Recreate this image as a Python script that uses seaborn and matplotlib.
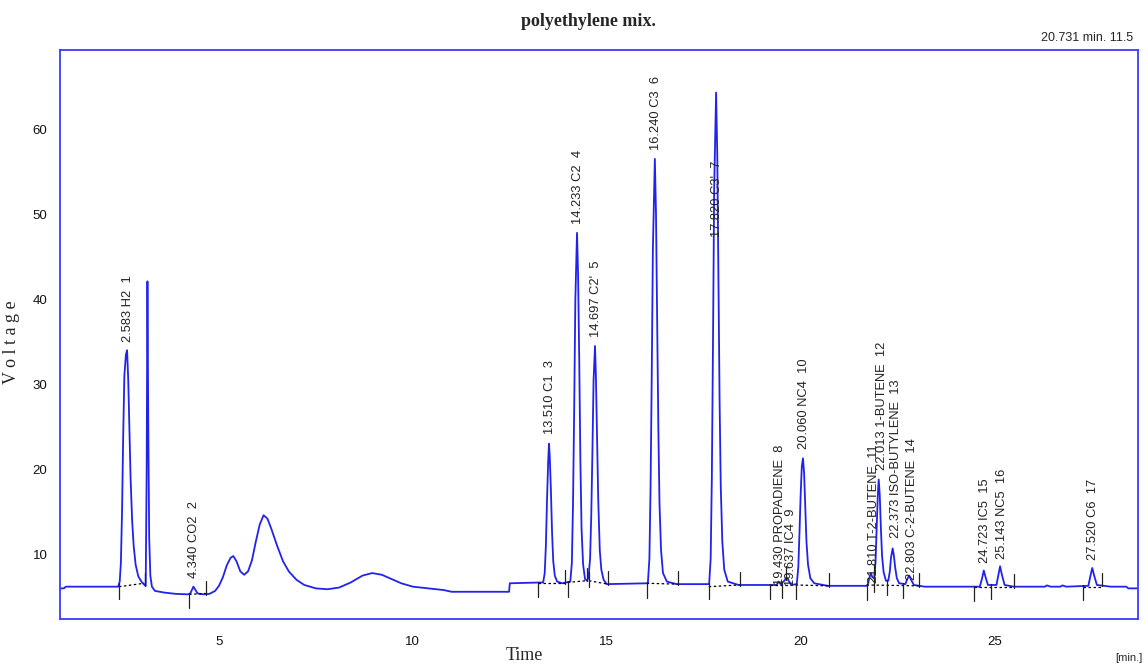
import numpy as np
import pandas as pd
import matplotlib
matplotlib.use("Agg")
import matplotlib.pyplot as plt
import seaborn as sns

trace_points = [
    (0.9, 6.0), (1.0, 6.0), (1.05, 6.2), (2.40, 6.2), (2.44, 6.8), (2.47, 9.0), (2.50, 15.0),
    (2.53, 24.0), (2.56, 31.0), (2.60, 33.5), (2.63, 34.0), (2.66, 30.5), (2.69, 25.0), (2.72, 19.0),
    (2.76, 14.0), (2.80, 11.0), (2.85, 8.8), (2.92, 7.4), (3.00, 6.8), (3.08, 6.4), (3.11, 6.3),
    (3.135, 20.0), (3.155, 42.1), (3.175, 26.0), (3.20, 12.0), (3.23, 7.5), (3.27, 6.2), (3.35, 5.7),
    (3.6, 5.5), (3.9, 5.35), (4.20, 5.3), (4.26, 5.4), (4.30, 5.8), (4.34, 6.2), (4.38, 5.9),
    (4.45, 5.4), (4.6, 5.3), (4.75, 5.35), (4.9, 5.7), (5.0, 6.3), (5.1, 7.3), (5.2, 8.7), (5.3, 9.6),
    (5.37, 9.8), (5.45, 9.2), (5.55, 8.0), (5.65, 7.6), (5.75, 8.0), (5.85, 9.3), (5.95, 11.5),
    (6.05, 13.5), (6.15, 14.6), (6.25, 14.2), (6.35, 13.0), (6.5, 11.0), (6.65, 9.2), (6.8, 8.0),
    (7.0, 7.0), (7.2, 6.4), (7.5, 6.0), (7.8, 5.9), (8.1, 6.1), (8.4, 6.7), (8.7, 7.5), (8.95, 7.8),
    (9.2, 7.6), (9.45, 7.1), (9.7, 6.6), (10.0, 6.2), (10.4, 6.0), (10.8, 5.8), (11.0, 5.6),
    (12.48, 5.6), (12.50, 6.6), (13.36, 6.7), (13.40, 7.8), (13.43, 11.0), (13.46, 16.5),
    (13.49, 21.0), (13.51, 23.0), (13.53, 21.5), (13.56, 17.5), (13.59, 12.5), (13.62, 9.2),
    (13.66, 7.5), (13.72, 6.8), (13.85, 6.6), (14.06, 6.8), (14.10, 9.0), (14.13, 16.0),
    (14.16, 27.0), (14.19, 40.0), (14.233, 47.8), (14.26, 43.0), (14.29, 33.0), (14.32, 21.0),
    (14.35, 13.0), (14.39, 8.8), (14.44, 7.1), (14.49, 6.9), (14.53, 7.3), (14.57, 9.5),
    (14.60, 14.5), (14.63, 22.0), (14.66, 30.5), (14.697, 34.5), (14.72, 31.0), (14.75, 24.0),
    (14.78, 16.5), (14.82, 10.5), (14.86, 8.2), (14.92, 7.0), (15.0, 6.5), (16.06, 6.6),
    (16.10, 9.5), (16.13, 18.0), (16.16, 31.0), (16.19, 46.0), (16.24, 56.5), (16.27, 50.0),
    (16.30, 38.0), (16.33, 25.0), (16.36, 16.0), (16.40, 10.5), (16.45, 7.8), (16.55, 6.8),
    (16.8, 6.5), (17.64, 6.5), (17.68, 9.5), (17.71, 19.0), (17.74, 35.0), (17.77, 53.0),
    (17.82, 64.3), (17.85, 57.0), (17.88, 43.0), (17.91, 28.0), (17.94, 18.0), (17.98, 11.5),
    (18.03, 8.2), (18.12, 6.8), (18.4, 6.4), (19.38, 6.4), (19.43, 6.8), (19.48, 6.5), (19.58, 6.9),
    (19.637, 7.3), (19.69, 6.9), (19.76, 6.4), (19.90, 6.5), (19.94, 8.5), (19.97, 12.5),
    (20.00, 17.0), (20.03, 20.3), (20.06, 21.3), (20.09, 19.5), (20.12, 15.5), (20.15, 11.5),
    (20.19, 8.8), (20.25, 7.2), (20.35, 6.6), (20.7, 6.3), (21.72, 6.3), (21.77, 7.2), (21.81, 7.8),
    (21.85, 7.3), (21.90, 7.2), (21.93, 9.0), (21.96, 13.0), (21.99, 17.0), (22.013, 18.8),
    (22.04, 17.0), (22.07, 13.0), (22.10, 9.8), (22.14, 7.9), (22.20, 6.9), (22.26, 6.9),
    (22.30, 8.0), (22.33, 9.6), (22.373, 10.7), (22.40, 10.0), (22.44, 8.4), (22.48, 7.2),
    (22.54, 6.6), (22.70, 6.5), (22.75, 7.1), (22.80, 7.5), (22.85, 7.0), (22.92, 6.4), (23.2, 6.2),
    (24.62, 6.2), (24.68, 7.2), (24.723, 8.1), (24.77, 7.3), (24.83, 6.4), (25.05, 6.4), (25.10, 7.6),
    (25.143, 8.6), (25.19, 7.6), (25.26, 6.4), (25.5, 6.2), (26.3, 6.2), (26.35, 6.35), (26.45, 6.2),
    (26.7, 6.2), (26.75, 6.35), (26.85, 6.2), (27.42, 6.3), (27.47, 7.4), (27.52, 8.4), (27.57, 7.5),
    (27.64, 6.4), (28.0, 6.2), (28.4, 6.2), (28.45, 6.0), (28.7, 6.0),
]
trace_t = [p[0] for p in trace_points]
trace_v = [p[1] for p in trace_points]

# ---- peak table ----
peak_rt = [2.583, 4.340, 13.510, 14.233, 14.697, 16.240, 17.820, 19.430, 19.637, 20.060,
           21.810, 22.013, 22.373, 22.803, 24.723, 25.143, 27.520]
peak_names = ["H2", "CO2", "C1", "C2", "C2'", "C3", "C3'", "PROPADIENE", "IC4", "NC4",
              "T-2-BUTENE", "1-BUTENE", "ISO-BUTYLENE", "C-2-BUTENE", "IC5", "NC5", "C6"]
peak_no = list(range(1, 18))
label_x = [2.66, 4.36, 13.54, 14.26, 14.72, 16.27, 17.85, 19.47, 19.74, 20.09,
           21.88, 22.10, 22.45, 22.88, 24.76, 25.18, 27.55]
label_base = [35.0, 7.2, 24.2, 48.8, 35.6, 57.6, 47.3, 6.4, 6.3, 22.4,
              6.6, 19.9, 11.9, 7.0, 9.0, 9.5, 9.3]

# integration marks and dotted baselines
down_marks = [2.42, 4.23, 13.22, 13.99, 14.54, 16.03, 17.63, 19.20, 19.51, 19.87,
              21.70, 21.88, 22.22, 22.63, 24.46, 24.92, 27.29]
up_marks = [3.09, 4.66, 13.92, 14.48, 15.03, 16.83, 18.43, 19.61, 20.72, 21.88, 23.04, 25.51, 27.78]
base_start_t = [2.42, 4.23, 13.22, 13.99, 14.54, 16.03, 17.63, 19.20, 19.87, 21.70, 24.46, 27.29]
base_start_v = [6.2, 5.3, 6.6, 6.7, 6.9, 6.6, 6.2, 6.4, 6.4, 6.4, 6.2, 6.2]
base_end_t = [3.07, 4.66, 13.92, 14.48, 15.03, 16.83, 18.43, 19.75, 20.72, 23.04, 25.51, 27.78]
base_end_v = [6.6, 5.4, 6.6, 6.9, 6.5, 6.5, 6.4, 6.4, 6.3, 6.3, 6.2, 6.2]

x_ticks = [5, 10, 15, 20, 25]
y_ticks = [10, 20, 30, 40, 50, 60]

BLUE = "#2222ee"
FRAME = "#3b3bff"

sns.set_style("white")
plt.rcParams["font.family"] = ["Liberation Sans", "DejaVu Sans"]

fig = plt.figure(figsize=(11.48, 6.65), dpi=100)
ax = fig.add_axes([60 / 1148, 1 - 619 / 665, (1138 - 60) / 1148, (619 - 50) / 665])

df = pd.DataFrame({"Time": trace_t, "Voltage": trace_v})
sns.lineplot(data=df, x="Time", y="Voltage", ax=ax, color=BLUE, lw=1.3,
             sort=False, estimator=None)

# dotted baselines
for t0, v0, t1, v1 in zip(base_start_t, base_start_v, base_end_t, base_end_v):
    ax.plot([t0, t1], [v0, v1], color="black", lw=0.9, ls=(0, (2, 2)))

# integration marks
for t in down_marks:
    b = np.interp(t, trace_t, trace_v)
    ax.plot([t, t], [b - 1.7, b + 0.1], color="#222222", lw=0.9)
for t in up_marks:
    b = np.interp(t, trace_t, trace_v)
    ax.plot([t, t], [b - 0.1, b + 1.5], color="#222222", lw=0.9)

# peak labels
for lx, lb, rt, nm, n in zip(label_x, label_base, peak_rt, peak_names, peak_no):
    ax.text(lx, lb, f"{rt:.3f} {nm}  {n}", rotation=90, ha="center", va="bottom",
            fontsize=9.3, color="#222222")

ax.set_xlim(0.9, 28.7)
ax.set_ylim(2.4, 69.3)
ax.set_xticks(x_ticks)
ax.set_yticks(y_ticks)
ax.tick_params(axis="both", direction="out", length=5, width=1.2, color=FRAME,
               labelsize=9.5, labelcolor="#111111")
ax.tick_params(axis="y", pad=4)
ax.tick_params(axis="x", pad=7)
for s in ax.spines.values():
    s.set_color(FRAME)
    s.set_linewidth(1.3)

ax.set_xlabel("Time", family="Liberation Serif", fontsize=13, va="center")
ax.xaxis.set_label_coords((524 - 60) / (1138 - 60), -(655 - 619) / 569)
ax.set_ylabel("V o l t a g e", family="Liberation Serif", fontsize=13)
ax.yaxis.set_label_coords((20 - 60) / (1138 - 60), (619 - 342) / 569)

fig.text(588 / 1148, 1 - 22 / 665, "polyethylene mix.", family="Liberation Serif",
         fontsize=13, fontweight="bold", ha="center", va="center")
fig.text(1133 / 1148, 1 - 38 / 665, "20.731 min. 11.5", fontsize=9, ha="right",
         va="center", stretch="condensed")
fig.text(1142 / 1148, 1 - 658 / 665, "[min.]", fontsize=8, ha="right", va="center")

fig.savefig("out.png", dpi=100)
